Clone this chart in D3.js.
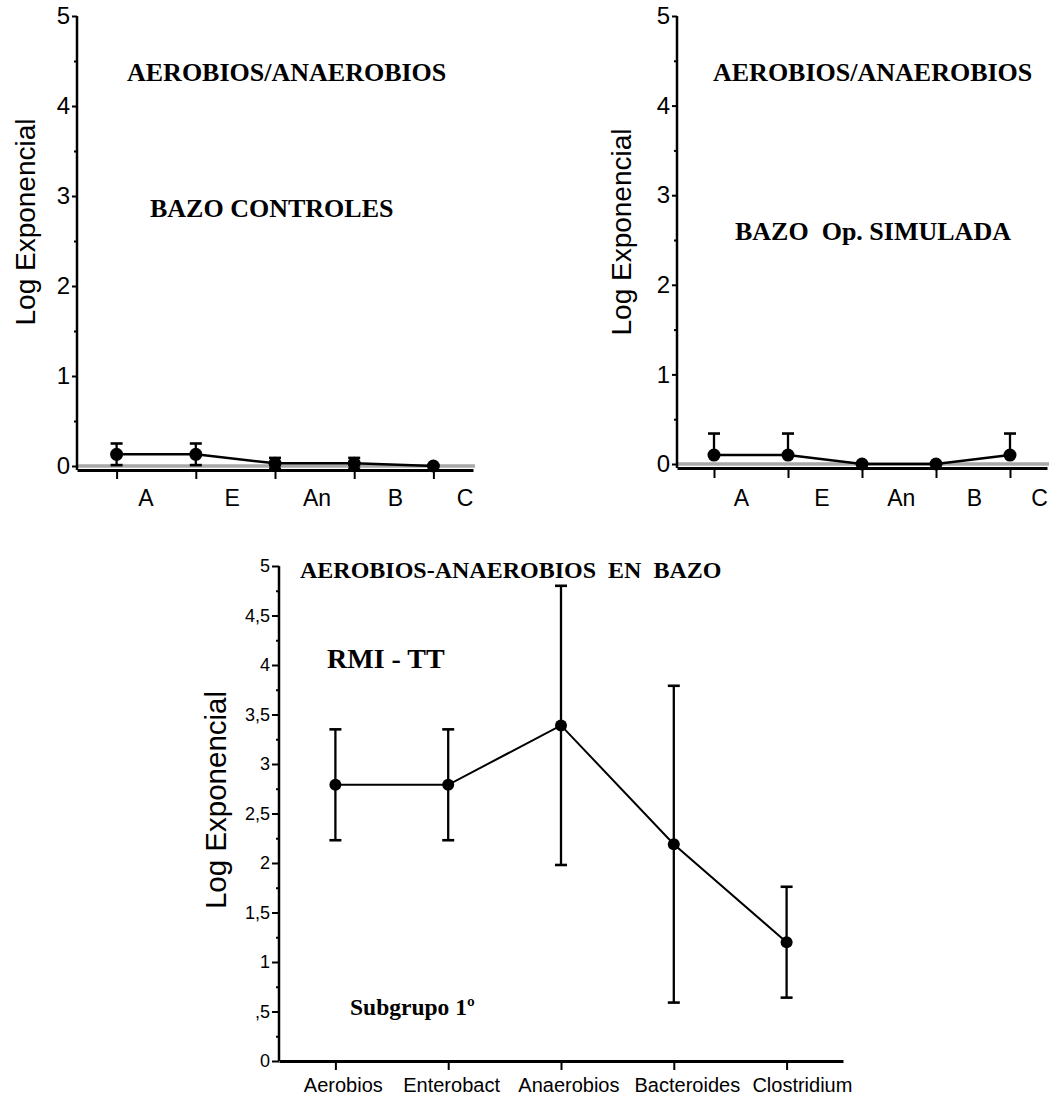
<!DOCTYPE html>
<html><head><meta charset="utf-8">
<script src="https://cdn.jsdelivr.net/npm/d3@7"></script>
<style>
body{margin:0;background:#fff}
svg{display:block}
.sans{font-family:Arial,"Liberation Sans",sans-serif}
.serif{font-family:"Times New Roman","Liberation Serif",serif;font-weight:bold}
</style>
</head><body>
<svg id="chart" width="1059" height="1101"></svg>
<script>
// Categories
const shortLabels = ["A", "E", "An", "B", "C"];
const longLabels = ["Aerobios", "Enterobact", "Anaerobios", "Bacteroides", "Clostridium"];
// Where the category labels sit along the category index
const shortLabelPos = [0.37, 1.46, 2.53, 3.52, 4.4];
const longLabelPos = [0.07, 1.03, 2.07, 3.12, 4.14];

// Spleen controls
const controlMeans = [0.13, 0.13, 0.03, 0.03, 0.0];
const controlErrors = [0.12, 0.12, 0.06, 0.06, 0.0];
// Spleen, sham operation
const shamMeans = [0.1, 0.1, 0.0, 0.0, 0.1];
const shamErrors = [0.24, 0.24, 0.0, 0.0, 0.24];
// Spleen, RMI - TT, subgroup 1
const rmiMeans = [2.79, 2.79, 3.39, 2.19, 1.2];
const rmiErrors = [0.56, 0.56, 1.41, 1.6, 0.56];

// Tick values and labels
const topTicks = [0, 1, 2, 3, 4, 5];
const topMinorTicks = [0.5, 1.5, 2.5, 3.5, 4.5];
const bottomTicks = [0, 0.5, 1, 1.5, 2, 2.5, 3, 3.5, 4, 4.5, 5];
const bottomTickLabels = ["0", ",5", "1", "1,5", "2", "2,5", "3", "3,5", "4", "4,5", "5"];
const bottomMinorTicks = [0.25, 0.75, 1.25, 1.75, 2.25, 2.75, 3.25, 3.75, 4.25, 4.75];

const svg = d3.select("#chart");

const panels = [
  {
    means: controlMeans, errors: controlErrors, twoSided: true,
    xRange: [77, 473], yRange: [466, 16], axisY: 470, zeroLine: true,
    tickFont: 24, ticks: topTicks, tickLabels: topTicks.map(String), minor: topMinorTicks,
    majorLen: 5, minorLen: 3, xTickLen: 9, labels: shortLabels, labelPos: shortLabelPos,
    labelFont: 23, labelBaseline: 506, lineW: 2.5, r: 6.5, cap: 6,
    ylab: {x: 35, y: 222, size: 28},
    texts: [
      {t: "AEROBIOS/ANAEROBIOS", x: 127, y: 81, size: 26},
      {t: "BAZO CONTROLES", x: 150, y: 217, size: 26}
    ]
  },
  {
    means: shamMeans, errors: shamErrors, twoSided: false,
    xRange: [677, 1047], yRange: [464, 16], axisY: 468, zeroLine: true,
    tickFont: 24, ticks: topTicks, tickLabels: topTicks.map(String), minor: topMinorTicks,
    majorLen: 5, minorLen: 3, xTickLen: 10, labels: shortLabels, labelPos: shortLabelPos,
    labelFont: 23, labelBaseline: 506, lineW: 2.5, r: 6.5, cap: 6,
    ylab: {x: 631, y: 232, size: 28},
    texts: [
      {t: "AEROBIOS/ANAEROBIOS", x: 713, y: 81, size: 26},
      {t: "BAZO\u00a0\u00a0Op. SIMULADA", x: 735, y: 240, size: 26}
    ]
  },
  {
    means: rmiMeans, errors: rmiErrors, twoSided: true,
    xRange: [279, 843], yRange: [1061, 566], axisY: 1061, zeroLine: false,
    tickFont: 18, ticks: bottomTicks, tickLabels: bottomTickLabels, minor: bottomMinorTicks,
    majorLen: 7, minorLen: 3, xTickLen: 9, labels: longLabels, labelPos: longLabelPos,
    labelFont: 20, labelBaseline: 1092, lineW: 2, r: 6, cap: 6,
    ylab: {x: 226, y: 800, size: 29.5},
    texts: [
      {t: "AEROBIOS-ANAEROBIOS\u00a0\u00a0EN\u00a0\u00a0BAZO", x: 300, y: 578, size: 24},
      {t: "RMI - TT", x: 327, y: 668, size: 28},
      {t: "Subgrupo 1\u00ba", x: 350, y: 1015, size: 23.5}
    ]
  }
];

panels.forEach(p => {
  const g = svg.append("g");
  const x = d3.scaleLinear().domain([-0.5, 4.5]).range(p.xRange);
  const y = d3.scaleLinear().domain([0, 5]).range(p.yRange);
  const idx = d3.range(p.means.length);

  // Gray reference line at zero
  if (p.zeroLine) {
    g.append("line")
      .attr("x1", x(-0.5)).attr("x2", x(4.5) + 2)
      .attr("y1", y(0)).attr("y2", y(0))
      .attr("stroke", "#a8a8a8").attr("stroke-width", 3.5);
  }

  // Y axis: major ticks with labels, minor ticks without
  const yAxis = d3.axisLeft(y)
    .tickValues(p.ticks)
    .tickFormat((d, i) => p.tickLabels[i])
    .tickSize(p.majorLen).tickSizeOuter(0).tickPadding(2);
  const ya = g.append("g").attr("transform", `translate(${p.xRange[0]},0)`).call(yAxis);
  ya.select(".domain").attr("stroke-width", 2.5)
    .attr("d", `M0,${y(5)}V${p.axisY}`);
  ya.selectAll(".tick line").attr("stroke-width", 2);
  ya.selectAll(".tick text").attr("class", "sans").attr("font-size", p.tickFont).attr("fill", "#000");

  const yMinor = d3.axisLeft(y).tickValues(p.minor).tickFormat("").tickSize(p.minorLen).tickSizeOuter(0);
  const ym = g.append("g").attr("transform", `translate(${p.xRange[0]},0)`).call(yMinor);
  ym.select(".domain").remove();
  ym.selectAll(".tick line").attr("stroke-width", 2);

  // X axis: ticks below the line at each category
  const xAxis = d3.axisBottom(x).tickValues(idx).tickFormat("").tickSize(p.xTickLen).tickSizeOuter(0);
  const xa = g.append("g").attr("transform", `translate(0,${p.axisY})`).call(xAxis);
  xa.select(".domain").attr("stroke-width", 3);
  xa.selectAll(".tick line").attr("stroke-width", 2);

  // Category labels
  g.selectAll(".catlab").data(p.labels).join("text")
    .attr("class", "sans")
    .attr("x", (d, i) => x(p.labelPos[i]))
    .attr("y", p.labelBaseline)
    .attr("text-anchor", "middle")
    .attr("font-size", p.labelFont)
    .text(d => d);

  // Error bars
  const eb = g.selectAll(".eb").data(idx.filter(i => p.errors[i] > 0)).join("g");
  eb.append("line")
    .attr("x1", i => x(i)).attr("x2", i => x(i))
    .attr("y1", i => y(p.means[i] + p.errors[i]))
    .attr("y2", i => p.twoSided ? y(p.means[i] - p.errors[i]) : y(p.means[i]))
    .attr("stroke", "#000").attr("stroke-width", 2.3);
  eb.append("line")
    .attr("x1", i => x(i) - p.cap).attr("x2", i => x(i) + p.cap)
    .attr("y1", i => y(p.means[i] + p.errors[i])).attr("y2", i => y(p.means[i] + p.errors[i]))
    .attr("stroke", "#000").attr("stroke-width", 2.6);
  if (p.twoSided) {
    eb.append("line")
      .attr("x1", i => x(i) - p.cap).attr("x2", i => x(i) + p.cap)
      .attr("y1", i => y(p.means[i] - p.errors[i])).attr("y2", i => y(p.means[i] - p.errors[i]))
      .attr("stroke", "#000").attr("stroke-width", 2.6);
  }

  // Mean line and markers
  const line = d3.line().x(i => x(i)).y(i => y(p.means[i]));
  g.append("path").datum(idx).attr("d", line)
    .attr("fill", "none").attr("stroke", "#000").attr("stroke-width", p.lineW);
  g.selectAll(".pt").data(idx).join("circle")
    .attr("cx", i => x(i)).attr("cy", i => y(p.means[i])).attr("r", p.r).attr("fill", "#000");

  // Y axis title (rotated, baseline on the right side)
  g.append("text").attr("class", "sans")
    .attr("transform", `translate(${p.ylab.x},${p.ylab.y}) rotate(-90)`)
    .attr("text-anchor", "middle")
    .attr("font-size", p.ylab.size)
    .text("Log Exponencial");

  // Annotations
  p.texts.forEach(t => {
    g.append("text").attr("class", "serif")
      .attr("x", t.x).attr("y", t.y).attr("font-size", t.size).text(t.t);
  });
});
</script>
</body></html>
